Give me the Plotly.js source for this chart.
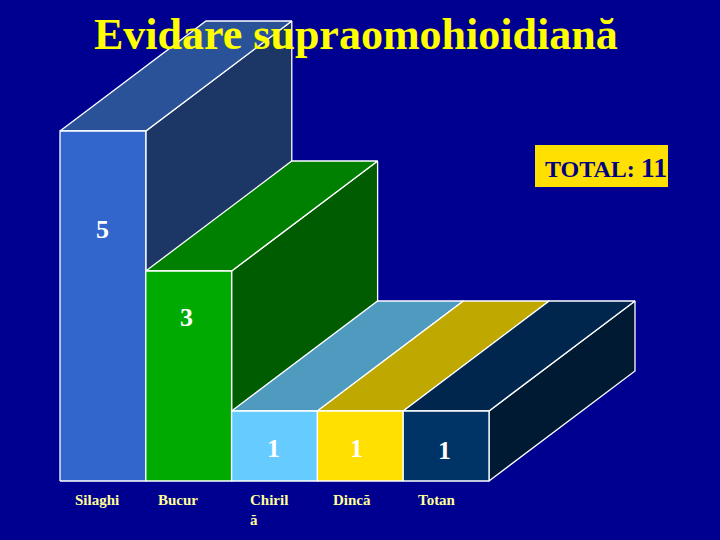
<!DOCTYPE html>
<html>
<head>
<meta charset="utf-8">
<script src="https://cdn.plot.ly/plotly-3.0.1.min.js"></script>
<style>html,body{margin:0;padding:0;background:#000090;overflow:hidden}</style>
</head>
<body>
<div id="chart" style="width:720px;height:540px"></div>
<script>
const categories = ["Silaghi", "Bucur", "Chiril<br>ă", "Dincă", "Totan"];
const values = [5, 3, 1, 1, 1];
const frontColors = ["#3366cc", "#00aa00", "#66ccff", "#ffe000", "#003366"];
const topColors = ["#2a5298", "#008000", "#4f9abf", "#bfa800", "#00264d"];
const sideColors = ["#1c3666", "#005c00", "#4f9abf", "#bfa800", "#001a33"];
const titleText = "<b>Evidare supraomohioidiană</b>";
const totalText = "<b>TOTAL: <span style='font-size:28px'>11</span></b>";

// Chart geometry in data units
const pxX = 85.8, pxY = 70, left = 60, base = 481;
const depthX = 146 / pxX, depthY = 110 / pxY;
const W = 720, H = 540;
const xRange = [-left / pxX, (W - left) / pxX];
const yRange = [-(H - base) / pxY, base / pxY];

const traces = [];
function face(xs, ys, fill) {
  traces.push({
    type: "scatter", mode: "lines", x: xs.concat(xs[0]), y: ys.concat(ys[0]),
    fill: "toself", fillcolor: fill, line: {color: "#ffffff", width: 1.3},
    hoverinfo: "skip", showlegend: false
  });
}
values.forEach((v, i) => {
  face([i + 1, i + 1 + depthX, i + 1 + depthX, i + 1], [0, depthY, v + depthY, v], sideColors[i]);
  face([i, i + depthX, i + 1 + depthX, i + 1], [v, v + depthY, v + depthY, v], topColors[i]);
  face([i, i + 1, i + 1, i], [0, 0, v, v], frontColors[i]);
});

const annotations = [];
const labelY = [3.6, 2.34, 0.46, 0.46, 0.43];
const labelX = [0.5, 0.47, 0.49, 0.46, 0.48];
values.forEach((v, i) => {
  annotations.push({
    x: i + labelX[i], y: labelY[i], xref: "x", yref: "y", text: "<b>" + v + "</b>", showarrow: false,
    font: {family: "Liberation Serif", size: 26, color: "#ffffff"}, xanchor: "center", yanchor: "middle"
  });
});
const catOffset = [0.16, 0.13, 0.2, 0.17, 0.16];
categories.forEach((c, i) => {
  annotations.push({
    x: i + catOffset[i], y: -0.165, xref: "x", yref: "y", text: "<b>" + c + "</b>", showarrow: false, align: "left",
    font: {family: "Liberation Serif", size: 15, color: "#ffff99"}, xanchor: "left", yanchor: "top",
    yshift: 2, borderpad: 0
  });
});
annotations.push({
  x: 356 / W, y: 1 - 35 / H, xref: "paper", yref: "paper", text: titleText, showarrow: false,
  font: {family: "Liberation Serif", size: 44, color: "#ffff00"}, xanchor: "center", yanchor: "middle"
});
annotations.push({
  x: 606 / W, y: 1 - 167 / H, xref: "paper", yref: "paper", text: totalText, showarrow: false,
  font: {family: "Liberation Serif", size: 24, color: "#000080"}, xanchor: "center", yanchor: "middle"
});

Plotly.newPlot("chart", traces, {
  width: W, height: H, margin: {l: 0, r: 0, t: 0, b: 0},
  paper_bgcolor: "#000090", plot_bgcolor: "#000090", showlegend: false,
  xaxis: {range: xRange, visible: false, fixedrange: true},
  yaxis: {range: yRange, visible: false, fixedrange: true},
  shapes: [{type: "rect", xref: "paper", yref: "paper", x0: 535 / W, x1: 668 / W, y0: 1 - 187 / H, y1: 1 - 145 / H,
            fillcolor: "#ffe000", line: {width: 0}}],
  annotations: annotations
}, {displayModeBar: false, staticPlot: true});
</script>
</body>
</html>
